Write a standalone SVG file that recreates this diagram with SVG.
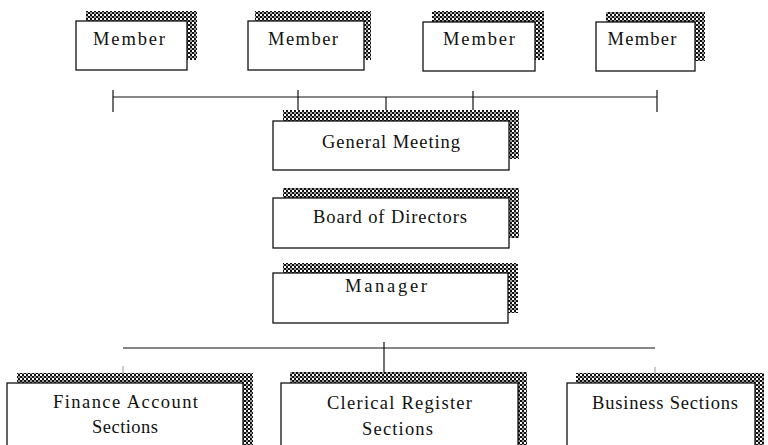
<svg xmlns="http://www.w3.org/2000/svg" width="768" height="445" viewBox="0 0 768 445">
<defs>
<pattern id="chk" width="4" height="4" patternUnits="userSpaceOnUse">
<rect width="4" height="4" fill="#ffffff"/>
<rect x="0" y="0" width="2" height="2" fill="#111"/>
<rect x="2" y="2" width="2" height="2" fill="#111"/>
<rect x="2" y="0" width="2" height="2" fill="#999"/>
</pattern>
</defs>
<style>
.sh{fill:url(#chk);stroke:none}
.bx{fill:#ffffff;stroke:#111;stroke-width:1.3}
.t{font-family:"Liberation Serif","Times New Roman",serif;font-size:18.5px;fill:#111;text-anchor:middle}
.ln{stroke:#111;stroke-width:1.2;fill:none}
.fl{stroke:#999;stroke-width:1;fill:none}
</style>
<rect width="768" height="445" fill="#ffffff"/>
<g id="connectors">
<line class="ln" x1="113" y1="97" x2="657" y2="97"/>
<line class="ln" x1="113" y1="90" x2="113" y2="112"/>
<line class="ln" x1="657" y1="90" x2="657" y2="112"/>
<line class="ln" x1="298" y1="90" x2="298" y2="110"/>
<line class="ln" x1="386" y1="97" x2="386" y2="110"/>
<line class="ln" x1="473" y1="91" x2="473" y2="110"/>
<line class="ln" x1="123" y1="348" x2="655" y2="348"/>
<line class="ln" x1="384" y1="342" x2="384" y2="372"/>
<line class="fl" x1="123" y1="366" x2="123" y2="373"/>
<line class="fl" x1="655" y1="367" x2="655" y2="373"/>
</g>
<g id="member1">
<rect class="sh" x="86" y="11" width="111" height="49"/>
<rect class="bx" x="76" y="21" width="111" height="49"/>
<text class="t" x="129" y="45" textLength="72" lengthAdjust="spacing">Member</text>
</g>
<g id="member2">
<rect class="sh" x="255" y="11" width="116" height="49"/>
<rect class="bx" x="248" y="21" width="116" height="49"/>
<text class="t" x="303" y="45" textLength="70" lengthAdjust="spacing">Member</text>
</g>
<g id="member3">
<rect class="sh" x="432" y="11" width="112" height="49"/>
<rect class="bx" x="423" y="22" width="112" height="49"/>
<text class="t" x="479" y="45" textLength="72" lengthAdjust="spacing">Member</text>
</g>
<g id="member4">
<rect class="sh" x="606" y="12" width="99" height="49"/>
<rect class="bx" x="596" y="22" width="99" height="49"/>
<text class="t" x="642" y="45" textLength="69" lengthAdjust="spacing">Member</text>
</g>
<g id="general-meeting">
<rect class="sh" x="283" y="110" width="236" height="49"/>
<rect class="bx" x="273" y="121" width="236" height="49"/>
<text class="t" x="391" y="148" textLength="138" lengthAdjust="spacing">General Meeting</text>
</g>
<g id="board-of-directors">
<rect class="sh" x="283" y="188" width="236" height="50"/>
<rect class="bx" x="273" y="198" width="236" height="50"/>
<text class="t" x="390" y="223" textLength="154" lengthAdjust="spacing">Board of Directors</text>
</g>
<g id="manager">
<rect class="sh" x="283" y="263" width="235" height="50"/>
<rect class="bx" x="273" y="273" width="235" height="50"/>
<text class="t" x="386" y="292" textLength="82" lengthAdjust="spacing">Manager</text>
</g>
<g id="finance-account-sections">
<rect class="sh" x="17" y="373" width="236" height="80"/>
<rect class="bx" x="7" y="383" width="236" height="80"/>
<text class="t" x="125.5" y="408" textLength="145" lengthAdjust="spacing">Finance Account</text>
<text class="t" x="125" y="433" textLength="66" lengthAdjust="spacing">Sections</text>
</g>
<g id="clerical-register-sections">
<rect class="sh" x="290" y="372" width="237" height="80"/>
<rect class="bx" x="281" y="383" width="237" height="80"/>
<text class="t" x="399.5" y="409" textLength="145" lengthAdjust="spacing">Clerical Register</text>
<text class="t" x="397.5" y="435" textLength="71" lengthAdjust="spacing">Sections</text>
</g>
<g id="business-sections">
<rect class="sh" x="576" y="373" width="188" height="80"/>
<rect class="bx" x="567" y="383" width="188" height="80"/>
<text class="t" x="665" y="409" textLength="146" lengthAdjust="spacing">Business Sections</text>
</g>
</svg>
